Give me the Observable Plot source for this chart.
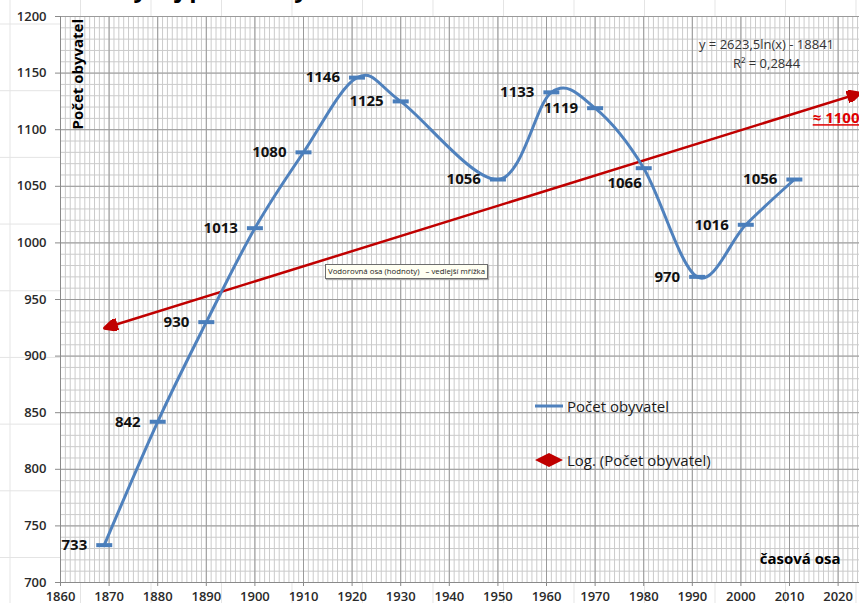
<!DOCTYPE html>
<html><head><meta charset="utf-8">
<script src="https://cdn.jsdelivr.net/npm/d3@7"></script>
<script src="https://cdn.jsdelivr.net/npm/@observablehq/plot@0.6"></script>
<style>
html,body{margin:0;padding:0;}
body{width:859px;height:603px;overflow:hidden;position:relative;background-color:#fff;
 background-image:linear-gradient(to right,#e4e4e4 1px,transparent 1px),linear-gradient(to bottom,#e4e4e4 1px,transparent 1px);
 background-size:70.5px 66.7px;background-position:9.5px 23.5px;font-family:"Open Sans",sans-serif;}
#chart{position:absolute;left:0;top:0;}
#title{position:absolute;left:118px;top:-24px;font:bold 24px/24px "Open Sans",sans-serif;white-space:nowrap;color:#000;}
.legend{position:absolute;left:533px;font:15px "Open Sans",sans-serif;color:#1a1a1a;display:flex;align-items:center;white-space:nowrap;}
.tip{position:absolute;left:325px;top:264px;height:13px;background:#fffff2;border:1px solid #6d6d6d;font:7.8px/13px "Open Sans",sans-serif;color:#222;padding:0 2px;white-space:nowrap;box-shadow:1px 1px 1px #aaa;}
.ann text{text-decoration:underline;}
</style>
</head><body>
<div id="chart"></div>
<div id="title">Vývoj počtu obyvatel</div>
<div class="legend" style="top:396px"><svg width="32" height="20"><line x1="2" x2="30" y1="10" y2="10" stroke="#4f81bd" stroke-width="3"/></svg><span style="margin-left:2px">Počet obyvatel</span></div>
<div class="legend" style="top:450px"><svg width="32" height="20"><polygon points="2,10 16,3 30,10 16,17" fill="#c00000"/></svg><span style="margin-left:2px">Log. (Počet obyvatel)</span></div>
<div class="tip">Vodorovná osa (hodnoty)&nbsp;&nbsp; – vedlejší mřížka</div>
<script>
// ---- data ----
const years = [1869, 1880, 1890, 1900, 1910, 1921, 1930, 1950, 1961, 1970, 1980, 1991, 2001, 2011];
const population = [733, 842, 930, 1013, 1080, 1146, 1125, 1056, 1133, 1119, 1066, 970, 1016, 1056];
const xTicks = [1860, 1870, 1880, 1890, 1900, 1910, 1920, 1930, 1940, 1950, 1960, 1970, 1980, 1990, 2000, 2010, 2020];
const yTicks = [700, 750, 800, 850, 900, 950, 1000, 1050, 1100, 1150, 1200];
const trendYears = [1869.3, 2024.3];
const trendValues = [925, 1132];
const equationText = "y = 2623,5ln(x) - 18841\nR² = 0,2844";
const forecastLabel = "≈ 1100";

// ---- build ----
const idx = d3.range(years.length);
const trendIdx = d3.range(trendYears.length);
const minorX = d3.range(1860, 2025, 1);
const minorY = d3.range(700, 1201, 10);

const dash = {draw(ctx) { ctx.moveTo(-8, -2); ctx.lineTo(8, -2); ctx.lineTo(8, 2); ctx.lineTo(-8, 2); ctx.closePath(); }};

function triangle(color, context) {
  const m = d3.create("svg:marker")
    .attr("viewBox", "0 -5 10 10")
    .attr("markerUnits", "userSpaceOnUse")
    .attr("markerWidth", 15)
    .attr("markerHeight", 12)
    .attr("refX", 9)
    .attr("orient", "auto-start-reverse");
  m.append("path").attr("d", "M0,-5L10,0L0,5Z").attr("fill", color);
  return m.node();
}

const labelIdx = idx.filter(i => !(population[i] === 1066 && years[i] === 1980));
const belowIdx = idx.filter(i => population[i] === 1066 && years[i] === 1980);

const chart = Plot.plot({
  width: 859, height: 603,
  marginLeft: 60, marginRight: 0, marginTop: 16, marginBottom: 21,
  style: {background: "transparent", fontFamily: "'Open Sans', sans-serif", overflow: "visible"},
  x: {domain: [1860, 2024.4]},
  y: {domain: [700, 1200]},
  marks: [
    Plot.frame({fill: "white", stroke: null}),
    Plot.gridX(minorX, {stroke: "#cbcbcb", strokeOpacity: 1}),
    Plot.gridY(minorY, {stroke: "#cbcbcb", strokeOpacity: 1}),
    Plot.gridX(xTicks, {stroke: "#9a9a9a", strokeOpacity: 1}),
    Plot.gridY(yTicks, {stroke: "#9a9a9a", strokeOpacity: 1}),
    Plot.axisY(yTicks, {tickSize: 5, tickPadding: 9, fontSize: 13, fontWeight: 600, color: "#2a2a2a", label: null, tickFormat: d => String(d), stroke: "#8a8a8a"}),
    Plot.axisX(xTicks, {tickSize: 4, tickPadding: 5, fontSize: 13, fontWeight: 600, color: "#2a2a2a", label: null, tickFormat: d => String(d), stroke: "#8a8a8a"}),
    Plot.ruleX([1860], {stroke: "#8a8a8a"}),
    Plot.ruleY([700], {stroke: "#8a8a8a"}),
    Plot.line(trendIdx, {x: i => trendYears[i], y: i => trendValues[i], stroke: "#c00000", strokeWidth: 2.5, markerStart: triangle, markerEnd: triangle}),
    Plot.line(idx, {x: i => years[i], y: i => population[i], curve: "cardinal", stroke: "#4f81bd", strokeWidth: 3}),
    Plot.dot(idx, {x: i => years[i], y: i => population[i], symbol: dash, fill: "#4a7ebb", stroke: null}),
    Plot.text(labelIdx, {x: i => years[i], y: i => population[i], text: i => String(population[i]), textAnchor: "end", dx: -17, fontSize: 15, fontWeight: "bold", fill: "#111"}),
    Plot.text(belowIdx, {x: i => years[i], y: i => population[i], text: i => String(population[i]), textAnchor: "end", dx: -2, dy: 15, fontSize: 15, fontWeight: "bold", fill: "#111"}),
    Plot.text(["Počet obyvatel"], {frameAnchor: "top-left", dx: 12, dy: 113, rotate: -90, textAnchor: "start", fontSize: 15, fontWeight: "bold", fill: "#000"}),
    Plot.text(["časová osa"], {frameAnchor: "bottom-right", dx: -19, dy: -19, textAnchor: "end", fontSize: 15, fontWeight: "bold", fill: "#000"}),
    Plot.text([equationText], {frameAnchor: "top-right", dx: -93, dy: 19, textAnchor: "middle", fontSize: 13, lineHeight: 1.45, fill: "#333"}),
    Plot.text([forecastLabel], {frameAnchor: "top-right", dx: 0, dy: 96, textAnchor: "end", fontSize: 15, fontWeight: "bold", fill: "#e00000", className: "ann"})
  ]
});
document.getElementById("chart").appendChild(chart);
</script>
</body></html>
